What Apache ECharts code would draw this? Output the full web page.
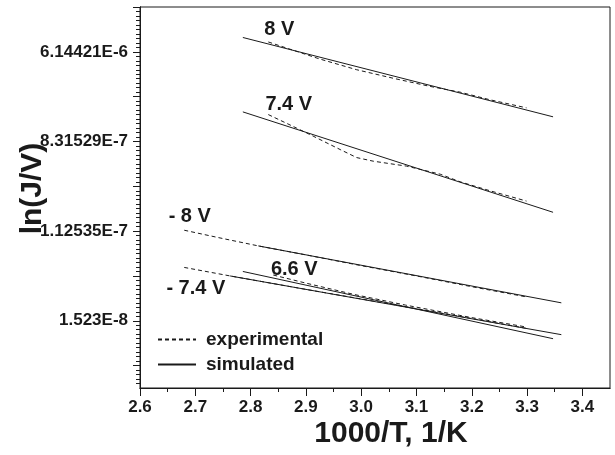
<!DOCTYPE html>
<html>
<head>
<meta charset="utf-8">
<script src="https://cdn.jsdelivr.net/npm/echarts@6/dist/echarts.min.js"></script>
<style>html,body{margin:0;padding:0;background:#fff}#c{width:615px;height:455px}</style>
</head>
<body>
<div id="c"></div>
<script>
// Axis ticks and labels
const xTickValues = [2.6, 2.7, 2.8, 2.9, 3.0, 3.1, 3.2, 3.3, 3.4];
const xTickLabels = ['2.6', '2.7', '2.8', '2.9', '3.0', '3.1', '3.2', '3.3', '3.4'];
const yMajorTicks = [-19, -18, -17, -16, -15, -14, -13, -12, -11];
const yLabelValues = [-18, -16, -14, -12];
const yTickLabels = ['1.523E-8', '1.12535E-7', '8.31529E-7', '6.14421E-6'];

// Series: [1000/T, ln(J/V)]
const exp8V = [[2.832, -11.78], [2.871, -11.94], [2.925, -12.16], [2.992, -12.40], [3.058, -12.59], [3.124, -12.77], [3.179, -12.90], [3.233, -13.07], [3.299, -13.25]];
const sim8V = [[2.786, -11.68], [3.347, -13.45]];
const exp74V = [[2.832, -13.40], [2.883, -13.70], [2.913, -13.88], [2.962, -14.18], [2.992, -14.36], [3.022, -14.44], [3.082, -14.55], [3.143, -14.73], [3.179, -14.90], [3.233, -15.10], [3.299, -15.33]];
const sim74V = [[2.786, -13.34], [3.347, -15.58]];
const expM8V = [[2.680, -15.98], [2.740, -16.14], [2.814, -16.33], [2.90, -16.53], [3.00, -16.77], [3.10, -17.00], [3.20, -17.24], [3.30, -17.47]];
const simM8V = [[2.814, -16.33], [3.362, -17.60]];
const exp66V = [[2.841, -16.98], [2.90, -17.16], [2.986, -17.41], [3.08, -17.65], [3.20, -17.93], [3.299, -18.14]];
const sim66V = [[2.786, -16.90], [3.347, -18.40]];
const expM74V = [[2.680, -16.81], [2.763, -17.00], [2.90, -17.30], [3.05, -17.62], [3.20, -17.95], [3.299, -18.17]];
const simM74V = [[2.763, -17.00], [3.362, -18.31]];

// Curve labels, placed in data coordinates
const curveLabels = [
  { name: '8 V', value: [2.852, -11.50] },
  { name: '7.4 V', value: [2.869, -13.17] },
  { name: '- 8 V', value: [2.690, -15.68] },
  { name: '6.6 V', value: [2.879, -16.85] },
  { name: '- 7.4 V', value: [2.701, -17.27] }
];

const FONT = "'Liberation Sans', Arial, Helvetica, sans-serif";
const INK = '#1a1a1a';

const xMinorTicks = [];
for (let i = 0; i < xTickValues.length - 1; i++) xMinorTicks.push(+((xTickValues[i] + xTickValues[i + 1]) / 2).toFixed(3));
const yMinorTicks = [];
for (let i = 0; i < yMajorTicks.length - 1; i++) {
  for (let k = 1; k < 10; k++) yMinorTicks.push(+(yMajorTicks[i] + k * (yMajorTicks[i + 1] - yMajorTicks[i]) / 10).toFixed(3));
}
for (let k = 1; k < 5; k++) yMinorTicks.push(+(yMajorTicks[0] - k * 0.1).toFixed(3));

const chart = echarts.init(document.getElementById('c'), null, { renderer: 'canvas' });

const expStyle = { color: INK, width: 1, type: [4, 3] };
const simStyle = { color: INK, width: 1, type: 'solid' };
function lineSeries(name, data, style) {
  return { name: name, type: 'line', data: data, symbol: 'none', showSymbol: false, silent: true,
    lineStyle: style, itemStyle: { color: INK }, animation: false, z: 3, xAxisIndex: 0, yAxisIndex: 0 };
}

const yLabelMap = {};
yLabelValues.forEach((v, i) => { yLabelMap[v] = yTickLabels[i]; });
const xLabelMap = {};
xTickValues.forEach((v, i) => { xLabelMap[v.toFixed(1)] = xTickLabels[i]; });

chart.setOption({
  animation: false,
  backgroundColor: '#fff',
  grid: { left: 140, right: 5, top: 7, bottom: 67, containLabel: false, outerBoundsMode: 'none',
    show: true, borderColor: INK, borderWidth: 1, backgroundColor: 'transparent' },
  legend: {
    data: ['experimental', 'simulated'],
    orient: 'vertical', left: 157, top: 330, padding: 0, itemGap: 6, itemWidth: 38, itemHeight: 14,
    itemStyle: { color: 'rgba(0,0,0,0)', borderColor: 'rgba(0,0,0,0)', borderWidth: 0 },
    textStyle: { fontFamily: FONT, fontWeight: 'bold', fontSize: 19, color: INK, padding: [0, 0, 0, 5] },
    selectedMode: false
  },
  xAxis: [
    {
      type: 'value', min: 2.6, max: 3.45, interval: 0.1,
      name: '1000/T, 1/K', nameLocation: 'middle', nameGap: 31, nameMoveOverlap: false,
      nameTextStyle: { fontFamily: FONT, fontWeight: 'bold', fontSize: 30, color: INK, padding: [0, 0, 0, 32] },
      axisLine: { show: true, lineStyle: { color: INK, width: 1 } },
      axisTick: { show: true, length: 8, inside: false, customValues: xTickValues, lineStyle: { color: INK, width: 1 } },
      axisLabel: { show: true, customValues: xTickValues, margin: 11, fontFamily: FONT, fontWeight: 'bold', fontSize: 17, color: INK,
        formatter: v => xLabelMap[(+v).toFixed(1)] || '' },
      splitLine: { show: false }
    },
    {
      type: 'value', min: 2.6, max: 3.45, position: 'bottom', gridIndex: 0, offset: 0,
      axisLine: { show: true, lineStyle: { color: INK, width: 1 } },
      axisTick: { show: true, length: 4, inside: false, customValues: xMinorTicks, lineStyle: { color: INK, width: 1 } },
      axisLabel: { show: false },
      splitLine: { show: false }
    }
  ],
  yAxis: [
    {
      type: 'value', min: -19.5, max: -11,
      name: 'ln(J/V)', nameLocation: 'middle', nameGap: 92, nameRotate: 90, nameMoveOverlap: false,
      nameTextStyle: { fontFamily: FONT, fontWeight: 'bold', fontSize: 30, color: INK, padding: [0, 0, 0, 18] },
      axisLine: { show: true, lineStyle: { color: INK, width: 1 } },
      axisTick: { show: true, length: 7, inside: false, customValues: yMajorTicks, lineStyle: { color: INK, width: 1 } },
      axisLabel: { show: true, customValues: yLabelValues, margin: 12, fontFamily: FONT, fontWeight: 'bold', fontSize: 17, color: INK,
        formatter: v => yLabelMap[Math.round(v)] || '' },
      splitLine: { show: false }
    },
    {
      type: 'value', min: -19.5, max: -11, position: 'left', gridIndex: 0, offset: 0,
      axisLine: { show: true, lineStyle: { color: INK, width: 1 } },
      axisTick: { show: true, length: 4, inside: false, customValues: yMinorTicks, lineStyle: { color: INK, width: 1 } },
      axisLabel: { show: false },
      splitLine: { show: false }
    }
  ],
  series: [
    lineSeries('experimental', exp8V, expStyle),
    lineSeries('simulated', sim8V, simStyle),
    lineSeries('experimental', exp74V, expStyle),
    lineSeries('simulated', sim74V, simStyle),
    lineSeries('experimental', expM8V, expStyle),
    lineSeries('simulated', simM8V, simStyle),
    lineSeries('experimental', exp66V, expStyle),
    lineSeries('simulated', sim66V, simStyle),
    lineSeries('experimental', expM74V, expStyle),
    lineSeries('simulated', simM74V, simStyle),
    {
      type: 'scatter', data: curveLabels, symbolSize: 0, silent: true, z: 5,
      itemStyle: { opacity: 1, color: INK },
      label: { show: true, position: 'inside', formatter: p => p.name, fontFamily: FONT, fontWeight: 'bold', fontSize: 20, color: INK },
      xAxisIndex: 0, yAxisIndex: 0
    }
  ]
});
</script>
</body>
</html>
